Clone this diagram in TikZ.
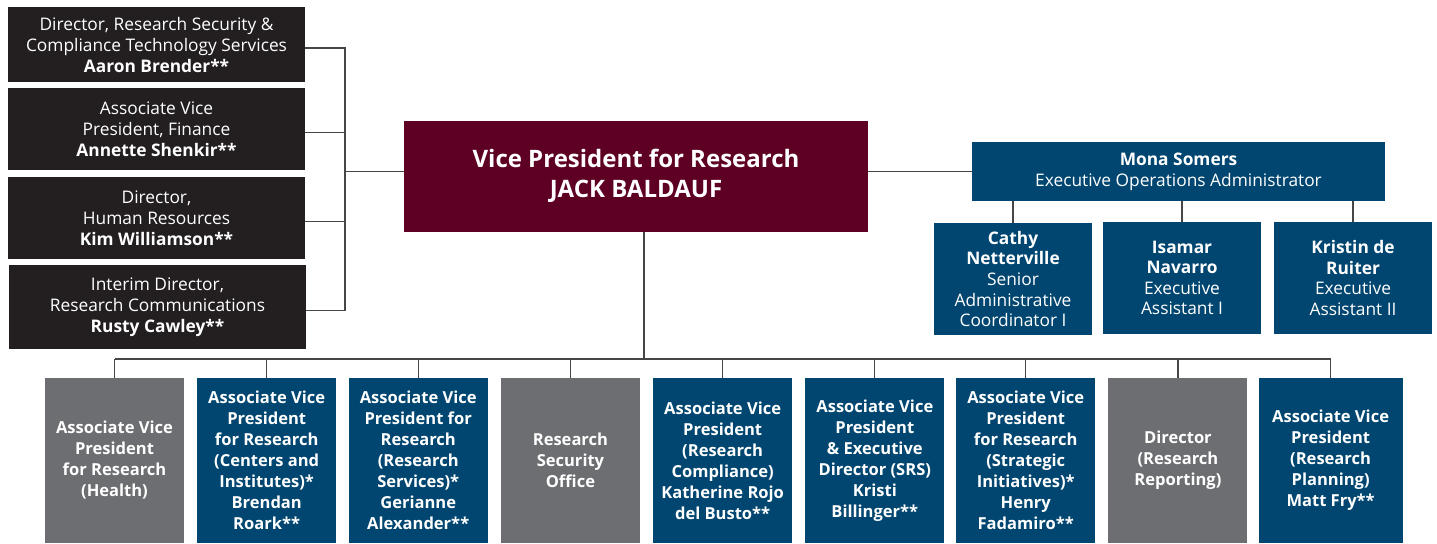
\documentclass[tikz,border=0pt]{standalone}
\usepackage{fontspec}
\setmainfont{Open Sans}
\usetikzlibrary{positioning}
\definecolor{boxdark}{RGB}{35,31,32}
\definecolor{vpred}{RGB}{94,0,36}
\definecolor{teamblue}{RGB}{0,70,112}
\definecolor{unitgray}{RGB}{109,110,113}
\definecolor{linegray}{RGB}{70,70,70}

\begin{document}
\begin{tikzpicture}[x=0.75pt,y=-0.75pt,
  box/.style={inner sep=0pt,align=center,text=white,font=\fontsize{13}{15.75}\selectfont},
  leftbox/.style={box,fill=boxdark,minimum width=222.75pt},
  helpbox/.style={box,fill=teamblue,minimum width=118.5pt,minimum height=84pt,font=\fontsize{13}{15.4}\selectfont},
  unitbox/.style={box,minimum width=104.25pt,minimum height=123.75pt,font=\fontsize{12.4}{15.75}\bfseries},
  bluebox/.style={unitbox,fill=teamblue},
  graybox/.style={unitbox,fill=unitgray},
  conn/.style={draw=linegray,line width=0.9pt}]

  \useasboundingbox (0,0) rectangle (1437,543);

  \node[box,fill=vpred,minimum width=348pt,minimum height=83.25pt,
    font=\fontsize{18}{22.5}\bfseries] (vp) at (636,176)
    {Vice President for Research\\JACK BALDAUF};

  % staff on the left
  \node[leftbox,minimum height=56.25pt] (ld1) at (156.5,44.5)
    {Director, Research Security \&\\Compliance Technology Services\\\textbf{Aaron Brender**}};
  \node[leftbox,minimum height=61.5pt] (ld2) at (156.5,129)
    {Associate Vice\\President, Finance\\\textbf{Annette Shenkir**}};
  \node[leftbox,minimum height=61.5pt] (ld3) at (156.5,218)
    {Director,\\Human Resources\\\textbf{Kim Williamson**}};
  \node[leftbox,minimum height=63pt] (ld4) at (157.5,307)
    {Interim Director,\\Research Communications\\\textbf{Rusty Cawley**}};

  % office on the right
  \node[box,fill=teamblue,minimum width=309.75pt,minimum height=44.25pt] (mona) at (1178.5,171.5)
    {\textbf{Mona Somers}\\Executive Operations Administrator};
  \node[helpbox] (cathy) at (1013,279)
    {\textbf{Cathy}\\\textbf{Netterville}\\Senior\\Administrative\\Coordinator I};
  \node[helpbox] (isamar) at (1182,278)
    {\textbf{Isamar}\\\textbf{Navarro}\\Executive\\Assistant I};
  \node[helpbox] (kristin) at (1353,278)
    {\textbf{Kristin de}\\\textbf{Ruiter}\\Executive\\Assistant II};

  % units below
  \node[graybox] (u1) at (114.5,460.5)
    {Associate Vice\\President\\for Research\\(Health)};
  \node[bluebox,right=9.5pt of u1] (u2)
    {Associate Vice\\President\\for Research\\(Centers and\\Institutes)*\\Brendan\\Roark**};
  \node[bluebox,right=9pt of u2] (u3)
    {Associate Vice\\President for\\Research\\(Research\\Services)*\\Gerianne\\Alexander**};
  \node[graybox,right=9.5pt of u3] (u4)
    {Research\\Security\\Office};
  \node[bluebox,right=9.5pt of u4] (u5)
    {Associate Vice\\President\\(Research\\Compliance)\\Katherine Rojo\\del Busto**};
  \node[bluebox,right=9.5pt of u5] (u6)
    {Associate Vice\\President\\\& Executive\\Director (SRS)\\Kristi\\Billinger**};
  \node[bluebox,right=8.5pt of u6] (u7)
    {Associate Vice\\President\\for Research\\(Strategic\\Initiatives)*\\Henry\\Fadamiro**};
  \node[graybox,right=9.5pt of u7] (u8)
    {Director\\(Research\\Reporting)};
  \node[bluebox,right=8pt of u8,minimum width=108pt] (u9)
    {Associate Vice\\President\\(Research\\Planning)\\Matt Fry**};

  \coordinate (ltrunk) at (345,171.5);
  \coordinate (bus) at (644,359);

  % lines for left side
  \draw[conn] ([yshift=-2.6pt]ld1.east) -| (ltrunk) ([yshift=-2.6pt]ld2.east) -| (ltrunk)
    ([yshift=-2.6pt]ld3.east) -| (ltrunk) ([yshift=-2.6pt]ld4.east) -| (ltrunk)
    (ltrunk) -- (ltrunk -| vp.west);

  % lines for right side
  \draw[conn] (vp.east |- mona.west) -- (mona.west)
    (cathy.north) -- (cathy.north |- mona.south)
    (isamar.north) -- (isamar.north |- mona.south)
    (kristin.north) -- (kristin.north |- mona.south);

  % lines down to the units
  \draw[conn] (vp.south -| bus) -- (bus)
    (bus -| u1.north) -- (bus -| u9.north);
  \foreach \u in {u1,u2,u3,u4,u5,u6,u7,u8,u9}
    \draw[conn] (bus -| \u.north) -- (\u.north);

\end{tikzpicture}
\end{document}
